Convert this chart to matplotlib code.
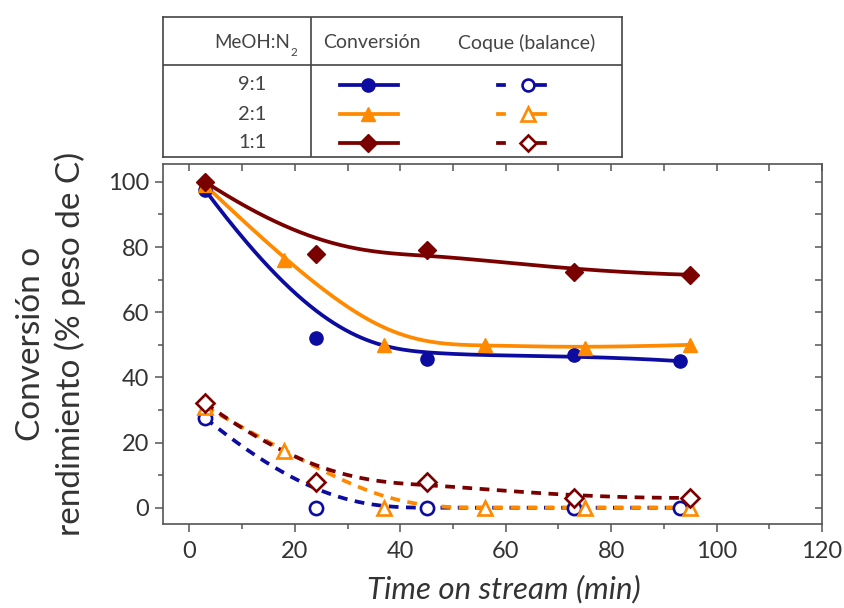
import numpy as np
import matplotlib
matplotlib.use("Agg")
import matplotlib.pyplot as plt
from matplotlib.ticker import MultipleLocator

plt.rcParams['font.family'] = ['Lato', 'DejaVu Sans']

# ---- data -------------------------------------------------------------
ratios = ["9:1", "2:1", "1:1"]
colors = ["#0c0ca0", "#ff8a00", "#7a0000"]
markers = ["o", "^", "D"]

t_91 = [3, 24, 45, 73, 93]
conv_91 = [97.5, 52, 45.5, 47, 45]
coke_91 = [27.5, 0, 0, 0, 0]

t_21 = [3, 18, 37, 56, 75, 95]
conv_21 = [99, 76, 50, 50, 49, 50]
coke_21 = [31, 17.5, 0, 0, 0, 0]

t_11 = [3, 24, 45, 73, 95]
conv_11 = [100, 78, 79, 72.5, 71.5]
coke_11 = [32, 8, 8, 3, 3]

times = [t_91, t_21, t_11]
conversions = [conv_91, conv_21, conv_11]
cokes = [coke_91, coke_21, coke_11]

x_ticks = [0, 20, 40, 60, 80, 100, 120]
y_ticks = [0, 20, 40, 60, 80, 100]


def bspline(xs, ys, degree=3, n=300):
    """Clamped B-spline curve using the measured points as control points."""
    cp = np.column_stack([xs, ys]).astype(float)
    m = len(cp)
    k = min(degree, m - 1)
    inner = np.linspace(0, 1, m - k + 1)
    knots = np.concatenate([np.zeros(k), inner, np.ones(k)])
    t = np.linspace(0, 1, n)

    def basis(i, p):
        if p == 0:
            res = ((knots[i] <= t) & (t < knots[i + 1])).astype(float)
            if knots[i + 1] == 1 and knots[i] < 1:
                res[t == 1] = 1.0
            return res
        out = np.zeros_like(t)
        d1 = knots[i + p] - knots[i]
        d2 = knots[i + p + 1] - knots[i + 1]
        if d1 > 0:
            out += (t - knots[i]) / d1 * basis(i, p - 1)
        if d2 > 0:
            out += (knots[i + p + 1] - t) / d2 * basis(i + 1, p - 1)
        return out

    B = np.array([basis(i, k) for i in range(m)])
    curve = B.T @ cp
    return curve[:, 0], curve[:, 1]


# ---- figure -----------------------------------------------------------
W, H = 845, 608
fig = plt.figure(figsize=(W / 100, H / 100), dpi=100)

ax_l, ax_r, ax_t, ax_b = 163, 822, 164, 524
ax = fig.add_axes([ax_l / W, 1 - ax_b / H, (ax_r - ax_l) / W, (ax_b - ax_t) / H])

msize = {"o": 9.5, "^": 10.5, "D": 9}
for tt, cv, ck, c, m in zip(times, conversions, cokes, colors, markers):
    # coke (open markers, dashed trend line)
    cx, cy = bspline(tt, ck)
    ax.plot(cx, cy, ls=(0, (2.6, 2.0)), lw=2.7, color=c, zorder=2)
    ax.plot(tt, ck, ls="none", marker=m, ms=msize[m], mfc="white",
            mec=c, mew=1.9, zorder=3)
    # conversion (filled markers, solid trend line)
    vx, vy = bspline(tt, cv)
    ax.plot(vx, vy, ls="-", lw=2.7, color=c, zorder=2)
    ax.plot(tt, cv, ls="none", marker=m, ms=msize[m], mfc=c, mec=c,
            mew=1, zorder=3)

ax.set_xlim(-5, 120)
ax.set_ylim(-5, 105.5)
ax.set_xticks(x_ticks)
ax.set_yticks(y_ticks)
ax.xaxis.set_minor_locator(MultipleLocator(10))
ax.yaxis.set_minor_locator(MultipleLocator(10))

spine_col = "#555555"
for s in ax.spines.values():
    s.set_color(spine_col)
    s.set_linewidth(1.2)

ax.tick_params(which="both", direction="out", color=spine_col, width=1.1,
               labelsize=17, labelcolor="#333333")
ax.tick_params(which="major", length=6)
ax.tick_params(which="minor", length=3.5)
ax.tick_params(axis="x", pad=6)
ax.tick_params(axis="y", pad=4)

# inward ticks along the top and right frame
top = ax.secondary_xaxis("top")
top.set_xticks(np.arange(0, 121, 10))
top.tick_params(direction="in", length=5, width=1.1, color=spine_col,
                labeltop=False)
top.spines["top"].set_visible(False)
right = ax.secondary_yaxis("right")
right.set_yticks(np.arange(0, 101, 10))
right.tick_params(direction="in", length=5, width=1.1, color=spine_col,
                  labelright=False)
right.spines["right"].set_visible(False)

fig.text(51 / W, 1 - 344 / H, "Conversión o\nrendimiento (% peso de C)",
         rotation=90, ha="center", va="center", fontsize=24,
         color="#333333", linespacing=1.35)
fig.text(504 / W, 1 - 589 / H, "Time on stream (min)", ha="center",
         va="center", fontsize=22.5, style="italic", color="#333333")

# ---- key table ----------------------------------------------------------
tb_l, tb_r, tb_t, tb_b = 163, 622, 17, 157
tab = fig.add_axes([tb_l / W, 1 - tb_b / H, (tb_r - tb_l) / W,
                    (tb_b - tb_t) / H])
tab.set_xlim(tb_l, tb_r)
tab.set_ylim(tb_b, tb_t)
tab.set_xticks([])
tab.set_yticks([])
for s in tab.spines.values():
    s.set_color("#444444")
    s.set_linewidth(1.2)
tab.axvline(311, color="#444444", lw=1.2)
tab.axhline(65, color="#444444", lw=1.2)

txt_col = "#444444"
tab.text(290, 43, "MeOH:N", ha="right", va="center", fontsize=13.5,
         color=txt_col)
tab.text(291, 53, "2", ha="left", va="center", fontsize=8.5, color=txt_col)
tab.text(372, 43, "Conversión", ha="center", va="center", fontsize=14,
         color=txt_col)
tab.text(527, 43, "Coque (balance)", ha="center", va="center",
         fontsize=14, color=txt_col)

row_y = [85, 114, 143]
for lab, y, c, m in zip(ratios, row_y, colors, markers):
    tab.text(252, y, lab, ha="center", va="center", fontsize=14.5,
             color=txt_col)
    tab.plot([340, 398], [y, y], color=c, lw=2.7)
    tab.plot([368], [y], marker=m, ms=msize[m], mfc=c, mec=c, ls="none")
    tab.plot([498, 504], [y, y], color=c, lw=2.7)
    tab.plot([528, 545], [y, y], color=c, lw=2.7)
    tab.plot([528], [y], marker=m, ms=msize[m] * 0.9, mfc="white", mec=c,
             mew=1.9, ls="none")

fig.savefig("out.png", dpi=100)
